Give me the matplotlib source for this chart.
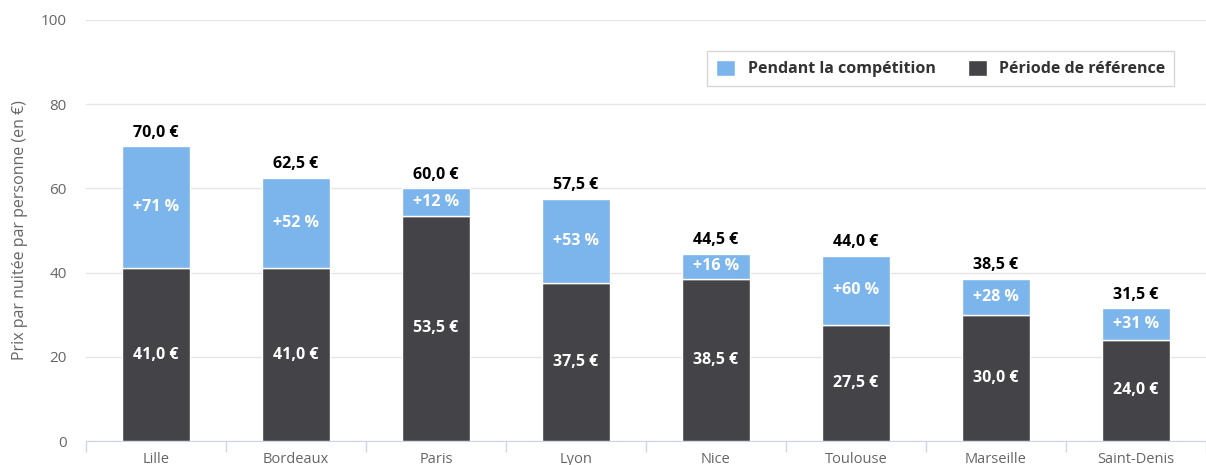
import matplotlib.pyplot as plt
import numpy as np

villes = ['Lille', 'Bordeaux', 'Paris', 'Lyon', 'Nice', 'Toulouse', 'Marseille', 'Saint-Denis']
reference = [41.0, 41.0, 53.5, 37.5, 38.5, 27.5, 30.0, 24.0]
total = [70.0, 62.5, 60.0, 57.5, 44.5, 44.0, 38.5, 31.5]
hausse = ['+71 %', '+52 %', '+12 %', '+53 %', '+16 %', '+60 %', '+28 %', '+31 %']

def fmt(v):
    return '{:.1f} €'.format(v).replace('.', ',')

plt.rcParams['font.family'] = ['Open Sans', 'DejaVu Sans']

fig = plt.figure(figsize=(12.06, 4.65), dpi=100)
ax = fig.add_axes([0.0713, 0.0516, 0.9287, 0.9054])

x = np.arange(len(villes))
extra = [t - r for t, r in zip(total, reference)]

ax.bar(x, reference, width=0.48, color='#434348', edgecolor='white', linewidth=1,
       label='Période de référence', zorder=3)
ax.bar(x, extra, bottom=reference, width=0.48, color='#7cb5ec', edgecolor='white',
       linewidth=1, label='Pendant la compétition', zorder=3)

for i in range(len(villes)):
    ax.text(x[i], reference[i] / 2, fmt(reference[i]), ha='center', va='center',
            color='white', fontsize=11.5, fontweight='bold', zorder=4)
    ax.text(x[i], reference[i] + extra[i] / 2, hausse[i], ha='center', va='center',
            color='white', fontsize=11.5, fontweight='bold', zorder=4)
    ax.text(x[i], total[i] + 1.3, fmt(total[i]), ha='center', va='bottom',
            color='black', fontsize=11.5, fontweight='bold', zorder=4)

ax.set_xlim(-0.5, len(villes) - 0.5)
ax.set_ylim(0, 100)
ax.set_yticks([0, 20, 40, 60, 80, 100])
ax.yaxis.grid(True, color='#e6e6e6', linewidth=1, zorder=0)
ax.set_axisbelow(True)

ax.set_xticks(x)
ax.set_xticklabels(villes)
ax.set_xticks(np.arange(-0.5, len(villes), 1), minor=True)
ax.tick_params(axis='x', which='major', length=0, labelsize=10.5, colors='#666666', pad=8)
ax.tick_params(axis='x', which='minor', length=8, color='#ccd6eb', width=1)
ax.tick_params(axis='y', length=0, labelsize=11, colors='#666666', pad=14)

for s in ['top', 'right', 'left']:
    ax.spines[s].set_visible(False)
ax.spines['bottom'].set_color('#ccd6eb')

ax.set_ylabel('Prix par nuitée par personne (en €)', color='#666666', fontsize=11.5, labelpad=9)

handles, labels = ax.get_legend_handles_labels()
leg = ax.legend(handles[::-1], labels[::-1], loc='upper right', bbox_to_anchor=(0.979, 0.945),
                ncol=2, frameon=True, fancybox=False, edgecolor='#cccccc',
                prop={'weight': 'bold', 'size': 11.5}, handlelength=1.2, handleheight=1.2,
                columnspacing=2.0, borderpad=0.55)
for t in leg.get_texts():
    t.set_color('#333333')

fig.savefig('out.png', dpi=100)
